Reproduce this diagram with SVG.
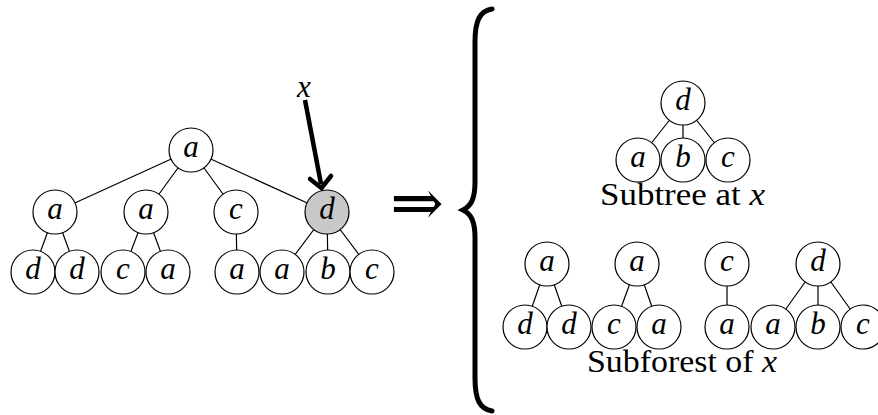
<svg xmlns="http://www.w3.org/2000/svg" width="878" height="415" viewBox="0 0 878 415">
<style>
.e{stroke:#000;stroke-width:1.2;fill:none}
.n circle{fill:#fff;stroke:#000;stroke-width:1.2}
.n text{font-family:'Liberation Serif','Times New Roman','DejaVu Serif',serif;font-style:italic;font-size:31px;text-anchor:middle;fill:#000}
.lbl{font-family:'Liberation Serif','Times New Roman','DejaVu Serif',serif;font-size:31px;fill:#000}
</style>
<rect width="878" height="415" fill="#fff"/>
<g id="connectors">
<path class="e" d="M191 150L55 212M191 150L146 212M191 150L236 212M191 150L327 212M55 212L33 272M55 212L77 272M146 212L123 272M146 212L168 272M236 212L237 272M327 212L282 272M327 212L328 272M327 212L372 272"/>
<path class="e" d="M683 103L638 160M683 103L683 160M683 103L728 160"/>
<path class="e" d="M547 264L525 327M547 264L569 327M637 264L614 327M637 264L659 327M727 264L727 327M818 264L773 327M818 264L818 327M818 264L863 327"/>
<path d="M305 100L321 184" stroke="#000" stroke-width="4.5" fill="none"/>
<path d="M310 179L321.5 188L331 176" stroke="#000" stroke-width="4.5" fill="none" stroke-linecap="round" stroke-linejoin="miter"/>
</g>
<g id="left-tree" class="n">
<g id="n0"><circle cx="191" cy="150" r="22"/><text x="191" y="157">a</text></g>
<g id="n1"><circle cx="55" cy="212" r="22"/><text x="55" y="219">a</text></g>
<g id="n2"><circle cx="146" cy="212" r="22"/><text x="146" y="219">a</text></g>
<g id="n3"><circle cx="236" cy="212" r="22"/><text x="236" y="219">c</text></g>
<g id="n4"><circle cx="327" cy="212" r="22" style="fill:#c8c8c8"/><text x="327" y="219">d</text></g>
<g id="n5"><circle cx="33" cy="272" r="22"/><text x="33" y="279">d</text></g>
<g id="n6"><circle cx="77" cy="272" r="22"/><text x="77" y="279">d</text></g>
<g id="n7"><circle cx="123" cy="272" r="22"/><text x="123" y="279">c</text></g>
<g id="n8"><circle cx="168" cy="272" r="22"/><text x="168" y="279">a</text></g>
<g id="n9"><circle cx="237" cy="272" r="22"/><text x="237" y="279">a</text></g>
<g id="n10"><circle cx="282" cy="272" r="22"/><text x="282" y="279">a</text></g>
<g id="n11"><circle cx="328" cy="272" r="22"/><text x="328" y="279">b</text></g>
<g id="n12"><circle cx="372" cy="272" r="22"/><text x="372" y="279">c</text></g>
</g>
<text class="lbl" x="304" y="97" text-anchor="middle" font-style="italic">x</text>
<text x="417" y="225" font-family="DejaVu Serif, serif" font-size="64" text-anchor="middle">⇒</text>
<path d="M492 9C480 11 475 20 475 42L475 182C475 199 471 206 463 210C471 214 475 221 475 238L475 378C475 400 480 409 492 411" stroke="#000" stroke-width="5" fill="none" stroke-linecap="round"/>
<g id="subtree" class="n">
<g id="s0"><circle cx="683" cy="103" r="22"/><text x="683" y="110">d</text></g>
<g id="s1"><circle cx="638" cy="160" r="22"/><text x="638" y="167">a</text></g>
<g id="s2"><circle cx="683" cy="160" r="22"/><text x="683" y="167">b</text></g>
<g id="s3"><circle cx="728" cy="160" r="22"/><text x="728" y="167">c</text></g>
</g>
<text class="lbl" x="600" y="205" textLength="165" lengthAdjust="spacingAndGlyphs">Subtree at <tspan font-style="italic">x</tspan></text>
<g id="subforest" class="n">
<g id="f0"><circle cx="547" cy="264" r="22"/><text x="547" y="271">a</text></g>
<g id="f1"><circle cx="525" cy="327" r="22"/><text x="525" y="334">d</text></g>
<g id="f2"><circle cx="569" cy="327" r="22"/><text x="569" y="334">d</text></g>
<g id="f3"><circle cx="637" cy="264" r="22"/><text x="637" y="271">a</text></g>
<g id="f4"><circle cx="614" cy="327" r="22"/><text x="614" y="334">c</text></g>
<g id="f5"><circle cx="659" cy="327" r="22"/><text x="659" y="334">a</text></g>
<g id="f6"><circle cx="727" cy="264" r="22"/><text x="727" y="271">c</text></g>
<g id="f7"><circle cx="727" cy="327" r="22"/><text x="727" y="334">a</text></g>
<g id="f8"><circle cx="818" cy="264" r="22"/><text x="818" y="271">d</text></g>
<g id="f9"><circle cx="773" cy="327" r="22"/><text x="773" y="334">a</text></g>
<g id="f10"><circle cx="818" cy="327" r="22"/><text x="818" y="334">b</text></g>
<g id="f11"><circle cx="863" cy="327" r="22"/><text x="863" y="334">c</text></g>
</g>
<text class="lbl" x="587" y="372" textLength="190" lengthAdjust="spacingAndGlyphs">Subforest of <tspan font-style="italic">x</tspan></text>
</svg>
